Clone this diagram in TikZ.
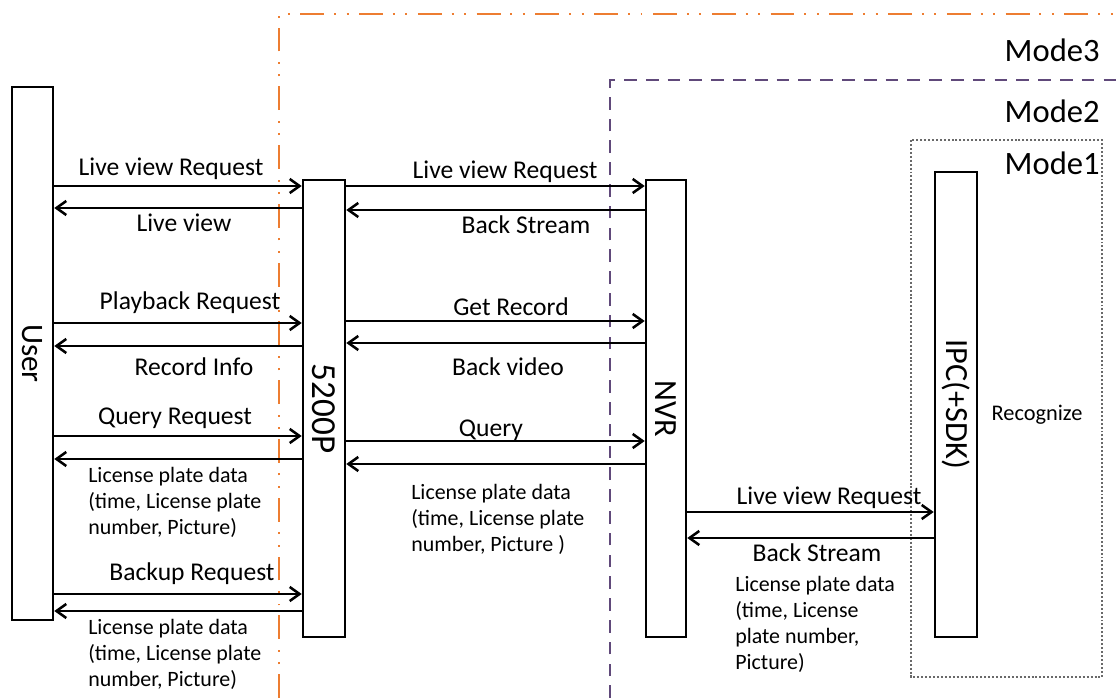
\documentclass[tikz,border=0pt]{standalone}
\usepackage{fontspec}
\setmainfont{Carlito}
\usetikzlibrary{
  arrows.meta,   % Straight Barb 箭头
  positioning    % 节点相对定位
}
\definecolor{modeorange}{RGB}{237,125,49}
\definecolor{modepurple}{RGB}{96,73,122}
\definecolor{modegray}{RGB}{105,105,105}
\tikzset{
  lifeline/.style={
    draw,
    line width=1.8pt,
    fill=white,
    inner sep=0pt
  },
  msg/.style={
    -{Straight Barb[length=7pt,width=10pt]},
    line width=1.8pt
  },
  msg text/.style={
    font=\fontsize{18.2}{21}\selectfont,
    inner sep=1pt
  },
  data text/.style={
    font=\fontsize{15.6}{18.4}\selectfont,
    align=left,
    anchor=north west,
    inner sep=0pt
  },
  actor text/.style={
    rotate=-90,
    font=\fontsize{23}{26}\selectfont
  },
  mode text/.style={
    font=\fontsize{23.2}{25}\selectfont,
    anchor=east,
    inner sep=0pt
  },
  mode3 frame/.style={
    draw=modeorange,
    line width=1.8pt,
    dash pattern=on 17pt off 7pt on 1.4pt off 7.5pt on 1.4pt off 7.5pt
  },
  mode2 frame/.style={
    draw=modepurple,
    line width=1.8pt,
    dash pattern=on 9pt off 6.5pt
  },
  mode1 frame/.style={
    draw=modegray,
    line width=1.5pt,
    dash pattern=on 1.4pt off 1.4pt
  }
}

\begin{document}
\begin{tikzpicture}[x=0.025cm, y=-0.025cm]
    \useasboundingbox (0,0) rectangle (1120,698);

    % 1. 三种模式的范围框
    \draw[mode3 frame] (279,698) -- (279,14) -- (1120,14);
    \draw[mode2 frame] (610,698) -- (610,80) -- (1120,80);
    \draw[mode1 frame] (911,140) rectangle (1102,677);

    \node[mode text] (mode3) at (1100,50) {Mode3};
    \node[mode text] (mode2) at (1100,111) {Mode2};
    \node[mode text] (mode1) at (1100,163) {Mode1};

    % 2. 各参与者的生命线
    \node[lifeline, minimum width=1.025cm, minimum height=13.325cm] (user) at (32.5,353.5) {};
    \node[lifeline, minimum width=1.05cm, minimum height=11.425cm] (p5200) at (324,408.5) {};
    \node[lifeline, minimum width=1.0cm, minimum height=11.425cm] (nvr) at (666,408.5) {};
    \node[lifeline, minimum width=1.05cm, minimum height=11.625cm] (ipc) at (956,404.5) {};

    \node[actor text, font=\fontsize{22.2}{26}\selectfont] (user text) at (user) {User};
    \node[actor text, font=\fontsize{25}{28}\selectfont] (p5200 text) at (p5200) {5200P};
    \node[actor text] (nvr text) at (nvr) {NVR};
    \node[actor text] (ipc text) at (ipc) {IPC(+SDK)};
    \node[msg text, font=\fontsize{15.9}{18}\selectfont] (recognize) at (1037,415) {Recognize};

    % 3. User 与 5200P 之间的消息
    \begin{scope}
      \draw[msg] (user.east |- 0,186) -- (p5200.west |- 0,186);
      \node[msg text] at (171,169) {Live view Request};
      \draw[msg] (p5200.west |- 0,208) -- (user.east |- 0,208);
      \node[msg text] at (184,223) {Live view};

      \draw[msg] (user.east |- 0,323) -- (p5200.west |- 0,323);
      \node[msg text] at (190,303) {Playback Request};
      \draw[msg] (p5200.west |- 0,346) -- (user.east |- 0,346);
      \node[msg text] at (194,367) {Record Info};

      \draw[msg] (user.east |- 0,436) -- (p5200.west |- 0,436);
      \node[msg text] at (175,418) {Query Request};
      \draw[msg] (p5200.west |- 0,459) -- (user.east |- 0,459);
      \node[data text] at (88,467) {License plate data\\(time, License plate\\number, Picture)};

      \draw[msg] (user.east |- 0,594) -- (p5200.west |- 0,594);
      \node[msg text] at (192,574) {Backup Request};
      \draw[msg] (p5200.west |- 0,611) -- (user.east |- 0,611);
      \node[data text] at (88,619) {License plate data\\(time, License plate\\number, Picture)};
    \end{scope}

    % 4. 5200P 与 NVR 之间的消息
    \begin{scope}
      \draw[msg] (p5200.east |- 0,186) -- (nvr.west |- 0,186);
      \node[msg text] at (505,172) {Live view Request};
      \draw[msg] (nvr.west |- 0,210) -- (p5200.east |- 0,210);
      \node[msg text] at (526,225) {Back Stream};

      \draw[msg] (p5200.east |- 0,321) -- (nvr.west |- 0,321);
      \node[msg text] at (511,307) {Get Record};
      \draw[msg] (nvr.west |- 0,343) -- (p5200.east |- 0,343);
      \node[msg text] at (508,367) {Back video};

      \draw[msg] (p5200.east |- 0,441) -- (nvr.west |- 0,441);
      \node[msg text] at (491,430) {Query};
      \draw[msg] (nvr.west |- 0,464) -- (p5200.east |- 0,464);
      \node[data text] at (411,484) {License plate data\\(time, License plate\\number, Picture )};
    \end{scope}

    % 5. NVR 与 IPC 之间的消息
    \begin{scope}
      \draw[msg] (nvr.east |- 0,512) -- (ipc.west |- 0,512);
      \node[msg text] at (829,498) {Live view Request};
      \draw[msg] (ipc.west |- 0,538) -- (nvr.east |- 0,538);
      \node[msg text] at (817,553) {Back Stream};
      \node[data text] at (735,576) {License plate data\\(time, License\\plate number,\\Picture)};
    \end{scope}

\end{tikzpicture}
\end{document}
